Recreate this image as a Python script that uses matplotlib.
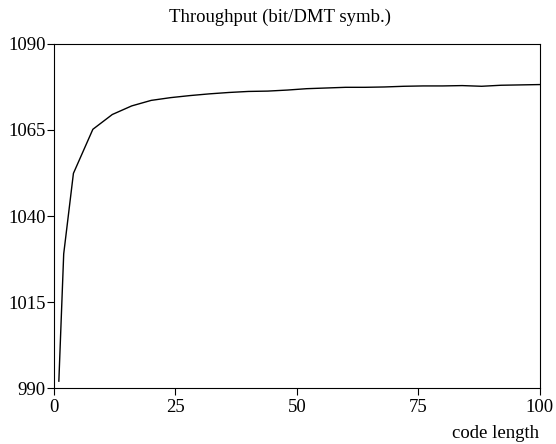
import numpy as np
import matplotlib.pyplot as plt

plt.rcParams['font.family'] = ['Liberation Serif', 'DejaVu Serif']

code_length = [1, 2, 4, 8, 12, 16, 20, 24, 28, 32, 36, 40, 44, 48, 52,
               56, 60, 64, 68, 72, 76, 80, 84, 88, 92, 96, 100]
throughput = [992, 1029, 1052.4, 1065.2, 1069.5, 1072, 1073.6, 1074.4,
              1075, 1075.5, 1075.9, 1076.2, 1076.3, 1076.6, 1077, 1077.2,
              1077.4, 1077.4, 1077.5, 1077.7, 1077.8, 1077.8, 1077.9,
              1077.7, 1078, 1078.1, 1078.2]

fig = plt.figure(figsize=(5.56, 4.44), dpi=100)
ax = fig.add_axes([0.0971, 0.126, 0.874, 0.775])
ax.plot(code_length, throughput, color='black', linewidth=1)

ax.set_xlim(0, 100)
ax.set_ylim(990, 1090)
ax.set_xticks([0, 25, 50, 75, 100])
ax.set_yticks([990, 1015, 1040, 1065, 1090])
ax.tick_params(direction='out', length=5, labelsize=13.5)
ax.tick_params(axis='x', pad=3)
ax.tick_params(axis='y', pad=1)
for s in ax.spines.values():
    s.set_linewidth(0.8)

ax.set_title('Throughput (bit/DMT symb.)', fontsize=13.5, pad=16, x=0.465)
ax.set_xlabel('code length', fontsize=13.5)
ax.xaxis.set_label_coords(0.998, -0.108)
ax.xaxis.label.set_horizontalalignment('right')

fig.savefig('out.png', dpi=100)
